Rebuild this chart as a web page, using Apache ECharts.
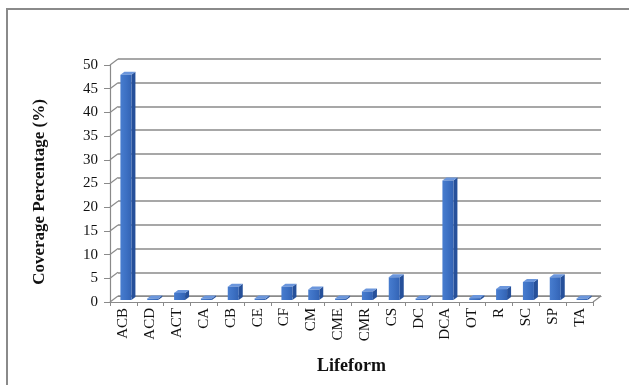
<!DOCTYPE html>
<html>
<head>
<meta charset="utf-8">
<script src="https://cdn.jsdelivr.net/npm/echarts@6/dist/echarts.min.js"></script>
<style>
  html, body { margin: 0; padding: 0; background: #ffffff; }
  #chart { width: 629px; height: 385px; }
</style>
</head>
<body>
<div id="chart"></div>
<script>
// Lifeform categories and their coverage (%)
const categories = ['ACB', 'ACD', 'ACT', 'CA', 'CB', 'CE', 'CF', 'CM', 'CME', 'CMR', 'CS', 'DC', 'DCA', 'OT', 'R', 'SC', 'SP', 'TA'];
const coverage = [47.5, 0.2, 1.5, 0.2, 2.8, 0.2, 2.8, 2.2, 0.2, 1.8, 4.8, 0.2, 25.2, 0.4, 2.3, 3.8, 4.8, 0.2];
const yTicks = [0, 5, 10, 15, 20, 25, 30, 35, 40, 45, 50];

// perspective offset of the back wall relative to the front plane
const DEPTH_X = 8, DEPTH_Y = -6;
// bar placement inside the box and the bar's own depth
const BAR_W = 11, BAR_OX = 2.5, BAR_OY = -2, BAR_DX = 4, BAR_DY = -3;

const FONT = '"Liberation Serif", "Times New Roman", serif';
const GRID_COLOR = '#8a8a8a';

const chart = echarts.init(document.getElementById('chart'), null, { renderer: 'canvas' });

function renderBar(params, api) {
  const idx = api.value(0);
  const top = api.coord([idx, api.value(1)]);
  const base = api.coord([idx, 0]);
  const left = top[0] - BAR_W / 2 + BAR_OX;
  const right = left + BAR_W;
  const yTop = Math.min(top[1], base[1] - 1.5) + BAR_OY;
  const yBase = base[1] + BAR_OY;
  return {
    type: 'group',
    children: [
      { // side face
        type: 'polygon',
        shape: { points: [[right, yTop], [right + BAR_DX, yTop + BAR_DY], [right + BAR_DX, yBase + BAR_DY], [right, yBase]] },
        style: { fill: '#26509a' }
      },
      { // top face
        type: 'polygon',
        shape: { points: [[left, yTop], [left + BAR_DX, yTop + BAR_DY], [right + BAR_DX, yTop + BAR_DY], [right, yTop]] },
        style: { fill: '#6b96dc' }
      },
      { // front face
        type: 'rect',
        shape: { x: left, y: yTop, width: BAR_W, height: yBase - yTop },
        style: { fill: new echarts.graphic.LinearGradient(0, 0, 1, 0, [
          { offset: 0, color: '#487dcf' },
          { offset: 0.5, color: '#3d71c4' },
          { offset: 1, color: '#3363b4' }
        ]) }
      }
    ]
  };
}

// slanted side-wall lines joining each front tick to the back wall
function renderSideWall(params, api) {
  const y = api.coord([0, api.value(1)])[1];
  const x0 = params.coordSys.x;
  return {
    type: 'line',
    shape: { x1: x0, y1: y, x2: x0 + DEPTH_X, y2: y + DEPTH_Y },
    style: { stroke: GRID_COLOR, lineWidth: 1.2 }
  };
}

// right edge of the floor
function renderFloorEdge(params, api) {
  const cs = params.coordSys;
  const x = cs.x + cs.width, y = cs.y + cs.height;
  return {
    type: 'line',
    shape: { x1: x, y1: y, x2: x + DEPTH_X, y2: y + DEPTH_Y },
    style: { stroke: GRID_COLOR, lineWidth: 1.2 }
  };
}

const option = {
  animation: false,
  backgroundColor: '#ffffff',
  grid: [
    { left: 110, right: 36, top: 65, bottom: 83 },                       // front plane
    { left: 110 + DEPTH_X, right: 36 - DEPTH_X, top: 65 + DEPTH_Y, bottom: 83 - DEPTH_Y } // back wall
  ],
  xAxis: [
    {
      type: 'category', gridIndex: 0, data: categories,
      axisLine: { show: true, lineStyle: { color: GRID_COLOR, width: 1.2 } },
      axisTick: { show: true, length: 4, lineStyle: { color: GRID_COLOR } },
      axisLabel: { rotate: 90, margin: 6, color: '#111', fontFamily: FONT, fontSize: 15 },
      name: 'Lifeform', nameLocation: 'middle', nameGap: 55,
      nameTextStyle: { fontFamily: FONT, fontSize: 18, fontWeight: 'bold', color: '#111' }
    },
    {
      type: 'category', gridIndex: 1, data: categories,
      axisLine: { show: true, lineStyle: { color: GRID_COLOR, width: 1.2 } },
      axisTick: { show: false }, axisLabel: { show: false }
    }
  ],
  yAxis: [
    {
      type: 'value', gridIndex: 0, min: 0, max: 50, interval: 5,
      axisLine: { show: true, lineStyle: { color: GRID_COLOR, width: 1.2 } },
      axisTick: { show: true, length: 6, lineStyle: { color: GRID_COLOR } },
      splitLine: { show: false },
      axisLabel: { margin: 12, color: '#111', fontFamily: FONT, fontSize: 15 }
    },
    {
      type: 'value', gridIndex: 1, min: 0, max: 50, interval: 5,
      axisLine: { show: false }, axisTick: { show: false }, axisLabel: { show: false },
      splitLine: { show: true, lineStyle: { color: GRID_COLOR, width: 1.6 } }
    }
  ],
  series: [
    {
      type: 'custom', xAxisIndex: 0, yAxisIndex: 0, silent: true,
      renderItem: renderSideWall,
      data: yTicks.map(function (t) { return [0, t]; }),
      z: 1
    },
    {
      type: 'custom', xAxisIndex: 0, yAxisIndex: 0, silent: true,
      renderItem: renderFloorEdge,
      data: [[0, 0]],
      z: 1
    },
    {
      type: 'custom', xAxisIndex: 0, yAxisIndex: 0,
      renderItem: renderBar,
      data: coverage.map(function (v, i) { return [i, v]; }),
      z: 3
    }
  ],
  graphic: [
    { // outer frame (top and left edges)
      type: 'polyline', silent: true,
      shape: { points: [[7, 385], [7, 9], [629, 9]] },
      style: { stroke: '#8a8a8a', lineWidth: 2, fill: null }
    },
    { // value axis title
      type: 'text', silent: true,
      x: 40, y: 192, rotation: Math.PI / 2,
      style: {
        text: 'Coverage Percentage (%)',
        font: 'bold 17px ' + FONT,
        fill: '#111', align: 'center', verticalAlign: 'middle'
      }
    }
  ]
};

chart.setOption(option);
</script>
</body>
</html>
